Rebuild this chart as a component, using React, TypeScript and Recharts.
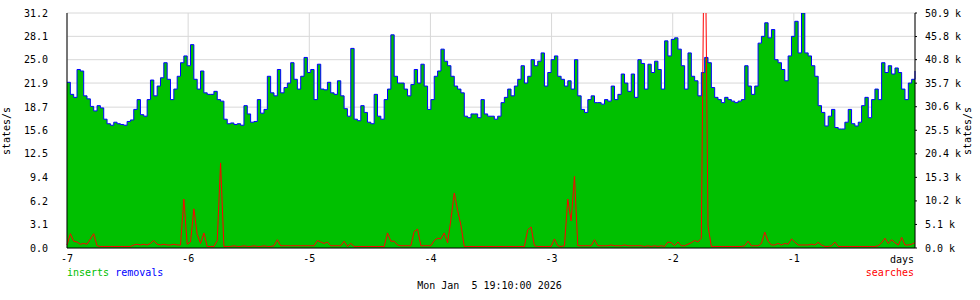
import React from "react";
import {
  ComposedChart,
  Area,
  Line,
  XAxis,
  YAxis,
  CartesianGrid,
} from "recharts";

// inserts (states/s), one sample every ~0.0276 day from -7 to 0 days
const inserts: number[] = [
  22.0, 20.4, 20.0, 23.7, 23.5, 20.2, 19.8, 18.8, 18.2, 18.9,
  18.6, 17.1, 16.5, 16.3, 16.7, 16.5, 16.4, 16.3, 16.8, 17.0,
  18.4, 19.7, 17.7, 17.5, 19.7, 22.3, 20.2, 21.5, 22.6, 24.6,
  22.4, 19.7, 21.1, 22.8, 24.6, 25.5, 24.2, 27.0, 22.4, 21.1,
  23.5, 20.6, 20.4, 20.4, 20.8, 19.7, 19.5, 17.1, 16.5, 16.6,
  16.4, 16.5, 16.3, 18.9, 17.8, 16.7, 16.8, 19.7, 17.9, 18.4,
  22.8, 20.6, 20.2, 23.7, 20.6, 21.3, 21.9, 24.6, 22.4, 21.1,
  22.8, 25.3, 23.3, 23.7, 19.7, 24.4, 21.1, 21.0, 22.0,
  20.6, 20.4, 22.2, 20.2, 18.5, 17.5, 26.5, 17.1, 16.9, 18.9, 18.0,
  16.7, 16.5, 20.4, 17.5, 17.1, 19.7, 21.1, 28.3, 22.8, 21.9,
  21.9, 21.1, 20.2, 21.7, 23.7, 21.9, 24.4, 21.5, 18.4, 19.7,
  22.8, 23.5, 26.4, 24.8, 24.2, 22.8, 21.5, 21.1, 20.6, 17.5,
  17.3, 17.8, 17.8, 17.3, 19.7, 17.8, 17.5, 17.5, 17.1, 17.5,
  19.3, 20.0, 21.1, 20.2, 21.5, 22.4, 24.2, 21.9, 22.8, 25.0,
  24.2, 24.8, 25.9, 21.5, 23.3, 25.0, 25.5, 22.8, 22.4, 21.5,
  22.2, 21.1, 25.0, 20.2, 18.4, 18.0, 19.7, 20.2, 19.3, 19.3,
  19.1, 19.7, 19.5, 21.5, 19.7, 20.4, 23.1, 21.9, 20.8, 23.1, 20.0, 25.0,
  24.5, 21.1, 24.4, 23.3, 24.8, 23.7, 21.1, 27.5, 25.5, 27.7,
  27.9, 26.4, 24.2, 21.1, 25.9, 22.8, 22.2, 20.2, 23.3, 25.3,
  24.6, 21.3, 20.0, 19.7, 19.3, 20.0, 19.7, 19.5, 19.3, 19.5,
  19.7, 24.2, 21.5, 20.4, 21.5, 27.2, 28.1, 29.9, 27.9, 29.0,
  25.0, 24.6, 23.7, 22.2, 25.5, 28.1, 30.1, 25.9, 31.2, 25.9,
  25.5, 24.2, 22.8, 18.9, 18.0, 16.2, 17.5, 18.4, 16.0, 15.8,
  15.8, 16.7, 18.4, 16.5, 16.2, 16.7, 18.9, 20.0, 17.3, 19.7,
  21.1, 19.7, 24.6, 23.3, 24.2, 23.1, 23.9, 23.3, 21.1, 19.7, 21.9, 22.4, 23.5,
];

// removals follow the top edge of the inserts area
const removals: number[] = [...inserts];

// searches (states/s, right axis)
const searches: number[] = [
  650, 3100, 1470, 1300, 820, 980, 820, 1960, 3100, 490,
  330, 330, 330, 330, 330, 330, 330, 330, 330, 330,
  650, 820, 650, 820, 650, 980, 1630, 820, 650, 820,
  650, 650, 820, 650, 650, 10600, 820, 1300, 8480, 2940,
  980, 3260, 330, 330, 330, 1630, 18430, 330, 330, 330,
  490, 330, 330, 490, 330, 330, 490, 330, 330, 490,
  330, 330, 490, 1790, 490, 490, 490, 490, 490, 490,
  490, 490, 490, 490, 490, 1630, 1300, 980, 1300,
  490, 490, 490, 490, 1470, 330, 980, 330, 330, 330, 330,
  330, 330, 330, 330, 330, 330, 3260, 1470, 1470, 650,
  490, 490, 490, 490, 3590, 4080, 490, 490, 490, 490,
  1630, 2120, 1960, 3260, 1140, 6200, 11910, 8160, 4890, 330,
  330, 330, 330, 330, 330, 330, 330, 330, 330, 330,
  330, 330, 330, 330, 330, 330, 330, 330, 3910, 4570,
  490, 330, 330, 330, 330, 330, 1960, 490, 330, 490,
  10600, 5870, 15490, 490, 490, 490, 490, 490, 1790, 490,
  490, 490, 490, 650, 490, 490, 490, 650, 490, 490, 490, 490,
  490, 330, 490, 330, 490, 330, 490, 330, 1300, 1140,
  490, 1300, 490, 490, 820, 1140, 1630, 1300, 2120, 82000,
  4730, 330, 330, 330, 330, 330, 330, 330, 330, 330,
  330, 490, 1470, 490, 490, 490, 980, 3430, 1470, 650,
  650, 980, 650, 980, 820, 1960, 1300, 650, 650, 650,
  650, 820, 650, 1220, 650, 330, 330, 490, 1300, 330,
  330, 330, 330, 330, 330, 330, 330, 330, 330, 330,
  330, 490, 1140, 2120, 980, 1790, 1140, 650, 2280, 650, 650, 820, 1140,
];

const xTickValues: number[] = [-7, -6, -5, -4, -3, -2, -1];
const leftTickValues: number[] = [0, 3.1, 6.2, 9.4, 12.5, 15.6, 18.7, 21.9, 25.0, 28.1, 31.2];
const rightTickValues: number[] = [0, 5100, 10200, 15300, 20400, 25500, 30600, 35700, 40800, 45800, 50900];

const dateLabel = "Mon Jan  5 19:10:00 2026";

const data = inserts.map((v, i) => ({
  t: -7 + (7 * i) / (inserts.length - 1),
  inserts: v,
  removals: removals[i],
  searches: searches[i],
}));

const mono = '"DejaVu Sans Mono", monospace';
const tickFont = { fontFamily: mono, fontSize: 10, fill: "#000" };

const textBase: React.CSSProperties = {
  position: "absolute",
  fontFamily: mono,
  fontSize: 10,
  lineHeight: "10px",
  whiteSpace: "pre",
  color: "#000",
};

export default function App() {
  return (
    <div style={{ position: "absolute", left: 0, top: 0, width: 980, height: 300, background: "#fff" }}>
      <ComposedChart
        width={980}
        height={300}
        data={data}
        margin={{ top: 13, right: 0, bottom: 32, left: 0 }}
      >
        <CartesianGrid
          yAxisId="left"
          stroke="#d8d8d8"
          strokeWidth={1}
          horizontalPoints={undefined}
        />
        <XAxis
          dataKey="t"
          type="number"
          domain={[-7, 0]}
          ticks={xTickValues}
          tickFormatter={(v: number) => String(v)}
          interval={0}
          height={20}
          tickSize={0}
          tickMargin={7}
          tickLine={false}
          axisLine={{ stroke: "#000" }}
          tick={tickFont}
        />
        <YAxis
          yAxisId="left"
          width={67}
          domain={[0, 31.2]}
          ticks={leftTickValues}
          tickFormatter={(v: number) => v.toFixed(1)}
          interval={0}
          allowDataOverflow
          tickSize={0}
          tickMargin={19}
          tickLine={false}
          axisLine={{ stroke: "#000" }}
          tick={tickFont}
        />
        <YAxis
          yAxisId="right"
          orientation="right"
          width={65}
          domain={[0, 50900]}
          ticks={rightTickValues}
          tickFormatter={(v: number) => (v / 1000).toFixed(1) + " k"}
          interval={0}
          allowDataOverflow
          tickSize={2}
          tickMargin={8}
          tickLine={{ stroke: "#000" }}
          axisLine={{ stroke: "#000" }}
          tick={{ ...tickFont, textAnchor: "start" }}
        />
        <Area
          yAxisId="left"
          dataKey="inserts"
          type="stepAfter"
          fill="#00c000"
          fillOpacity={1}
          stroke="none"
          isAnimationActive={false}
          baseValue={0}
        />
        <Line
          yAxisId="left"
          dataKey="removals"
          type="stepAfter"
          stroke="#0000ff"
          strokeWidth={1}
          dot={false}
          activeDot={false}
          isAnimationActive={false}
        />
        <Line
          yAxisId="right"
          dataKey="searches"
          type="linear"
          stroke="#ff0000"
          strokeWidth={1}
          dot={false}
          activeDot={false}
          isAnimationActive={false}
        />
      </ComposedChart>

      <div style={{ ...textBase, left: 7, top: 131, transform: "translate(-50%, -50%) rotate(-90deg)" }}>
        states/s
      </div>
      <div style={{ ...textBase, left: 968, top: 131, transform: "translate(-50%, -50%) rotate(-90deg)" }}>
        states/s
      </div>
      <div style={{ ...textBase, right: 980 - 914, top: 255 }}>days</div>
      <div style={{ ...textBase, left: 67, top: 268 }}>
        <span style={{ color: "#00c000" }}>inserts</span>
        <span style={{ color: "#0000ff" }}> removals</span>
      </div>
      <div style={{ ...textBase, right: 980 - 914, top: 268, color: "#ff0000" }}>searches</div>
      <div style={{ ...textBase, left: 489.5, top: 281, transform: "translateX(-50%)" }}>{dateLabel}</div>
    </div>
  );
}
